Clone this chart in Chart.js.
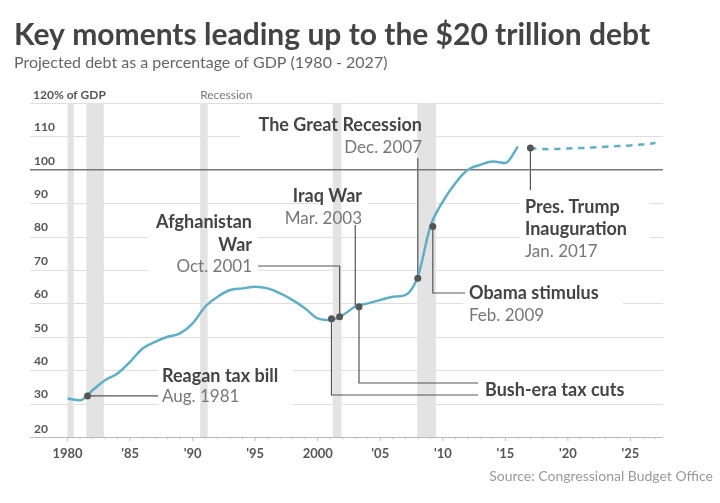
<!DOCTYPE html>
<html><head><meta charset="utf-8">
<script src="https://cdn.jsdelivr.net/npm/chart.js@4"></script>
<style>body{margin:0;background:#fff}#w{position:relative;width:720px;height:503px}</style>
</head><body><div id="w"><canvas id="c" width="720" height="503"></canvas></div>
<script>
const years = [1980,1981,1982,1983,1984,1985,1986,1987,1988,1989,1990,1991,1992,1993,1994,1995,1996,1997,1998,1999,2000,2001,2002,2003,2004,2005,2006,2007,2008,2009,2010,2011,2012,2013,2014,2015,2016];
const debt = [31.5,31,34,37,39,42.5,46.5,48.5,50,51,54,59,62,64,64.5,65,64.5,63,61,58.5,55.5,55,56.5,59,60,61,62,62.5,68,83,90.5,96,100,101.5,102.5,102,107];
const projYears = [2017,2018,2019,2020,2021,2022,2023,2024,2025,2026,2027];
const projDebt = [106.5,106.2,106.2,106.4,106.5,106.7,106.9,107.1,107.3,107.6,108];
const eventYears = [1981.6,2001.1,2001.75,2003.3,2008.0,2009.2,2017.0];
const eventDebt = [32.3,55.4,56,59,67.5,83,106.5];
const recessions = [[1980.0,1980.5],[1981.5,1982.9],[1990.6,1991.2],[2001.2,2001.9],[2007.95,2009.45]];
const yTicks = [20,30,40,50,60,70,80,90,100,110];
const xTicks = [1980,1985,1990,1995,2000,2005,2010,2015,2020,2025];
const xTickLabels = ['1980',"'85","'90","'95",'2000',"'05","'10","'15","'20","'25"];

const F='"Lato","Open Sans",sans-serif';
const bg={id:'bg',beforeDatasetsDraw(ch){
  const {ctx,chartArea:a,scales:{x,y}}=ch;ctx.save();
  ctx.strokeStyle='#dedede';ctx.lineWidth=1;
  [...yTicks,120].forEach(v=>{if(v===100)return;const p=Math.round(y.getPixelForValue(v))+.5;ctx.beginPath();ctx.moveTo(a.left,p);ctx.lineTo(a.right,p);ctx.stroke();});
  ctx.fillStyle='#fff';
  [[240,110,185,30],[318,182,50,45],[148,205,110,75],[158,363,135,42],[478,376,185,28],[463,280,160,45],[520,190,130,72]].forEach(b=>ctx.fillRect(b[0],b[1],b[2],b[3]));
  ctx.fillStyle='#e3e3e3';
  recessions.forEach(r=>{const x0=x.getPixelForValue(r[0]),x1=x.getPixelForValue(r[1]);ctx.fillRect(x0,a.top,x1-x0,a.bottom-a.top);});
  ctx.fillStyle='#555';ctx.font='bold 12px '+F;ctx.textBaseline='bottom';ctx.textAlign='left';
  yTicks.forEach(v=>{ctx.fillText(String(v),a.left+4,y.getPixelForValue(v)-(v===20?2:3));});
  ctx.fillText('120% of GDP',a.left+3,y.getPixelForValue(120)-2);
  ctx.fillStyle='#777';ctx.font='12px '+F;ctx.fillText('Recession',x.getPixelForValue(1990.6),y.getPixelForValue(120)-2);
  ctx.strokeStyle='#555';ctx.lineWidth=1.2;
  const P=(xx,yy)=>[x.getPixelForValue(xx),y.getPixelForValue(yy)];
  const line=pts=>{ctx.beginPath();pts.forEach((p,i)=>i?ctx.lineTo(p[0],p[1]):ctx.moveTo(p[0],p[1]));ctx.stroke();};
  let p=P(eventYears[0],eventDebt[0]);line([p,[158,p[1]]]);
  p=P(eventYears[1],eventDebt[1]);line([p,[p[0],395],[478,395]]);
  p=P(eventYears[3],eventDebt[3]);line([p,[p[0],383],[478,383]]);
  p=P(eventYears[2],eventDebt[2]);line([p,[p[0],266],[258,266]]);
  p=P(2003.0,eventDebt[3]);line([[p[0],p[1]],[p[0],225]]);
  p=P(eventYears[4],eventDebt[4]);line([p,[p[0],158]]);
  p=P(eventYears[5],eventDebt[5]);line([p,[p[0],293],[465,293]]);
  p=P(eventYears[6],eventDebt[6]);line([p,[p[0],190]]);
  ctx.strokeStyle='#777';ctx.lineWidth=1.5;const q=y.getPixelForValue(100);ctx.beginPath();ctx.moveTo(a.left,q);ctx.lineTo(a.right,q);ctx.stroke();
  ctx.strokeStyle='#bbb';ctx.lineWidth=1;ctx.beginPath();ctx.moveTo(a.left,a.bottom+.5);ctx.lineTo(a.right,a.bottom+.5);ctx.stroke();
  for(let yr=1980;yr<=2027;yr++){const xp=x.getPixelForValue(yr);ctx.beginPath();ctx.moveTo(xp,a.bottom);ctx.lineTo(xp,a.bottom+(yr%5?2:4));ctx.stroke();}
  ctx.fillStyle='#555';ctx.font='bold 13px '+F;ctx.textAlign='center';ctx.textBaseline='top';
  xTicks.forEach((v,i)=>ctx.fillText(xTickLabels[i],x.getPixelForValue(v),a.bottom+10));
  ctx.restore();
},afterDraw(ch){
  const ctx=ch.ctx;ctx.save();ctx.textBaseline='middle';
  const T=(s,xx,yy,al,b)=>{ctx.textAlign=al;ctx.font=(b?'bold 18px ':'17px ')+F;ctx.fillStyle=b?'#444':'#777';ctx.fillText(s,xx,yy);};
  T('The Great Recession',422,125,'right',1);T('Dec. 2007',422,148,'right',0);
  T('Iraq War',362,196,'right',1);T('Mar. 2003',362,219,'right',0);
  T('Afghanistan',252,222,'right',1);T('War',252,245,'right',1);T('Oct. 2001',252,267,'right',0);
  T('Reagan tax bill',162,376,'left',1);T('Aug. 1981',162,397,'left',0);
  T('Bush-era tax cuts',485,390,'left',1);
  T('Obama stimulus',469,293,'left',1);T('Feb. 2009',469,316,'left',0);
  T('Pres. Trump',525,207,'left',1);T('Inauguration',525,229,'left',1);T('Jan. 2017',525,252,'left',0);
  ctx.textBaseline='alphabetic';
  ctx.textAlign='left';ctx.fillStyle='#444';ctx.font='bold 30px '+F;ctx.fillText('Key moments leading up to the $20 trillion debt',14,45);
  ctx.fillStyle='#666';ctx.font='16px '+F;ctx.fillText('Projected debt as a percentage of GDP (1980 - 2027)',14,68);
  ctx.textAlign='right';ctx.fillStyle='#999';ctx.font='14px '+F;ctx.fillText('Source: Congressional Budget Office',713,481);
  ctx.restore();
}};
new Chart(document.getElementById('c'),{type:'line',
 data:{datasets:[
  {data:eventYears.map((v,i)=>({x:v,y:eventDebt[i]})),showLine:false,pointRadius:3.5,pointBackgroundColor:'#555',pointBorderWidth:0},
  {data:years.map((v,i)=>({x:v,y:debt[i]})),borderColor:'#5eafc6',borderWidth:2.5,pointRadius:0,tension:0.4,cubicInterpolationMode:'monotone'},
  {data:projYears.map((v,i)=>({x:v,y:projDebt[i]})),borderColor:'#5eafc6',borderWidth:2.5,borderDash:[6,6],pointRadius:0,tension:0.4}
 ]},
 options:{responsive:false,animation:false,events:[],
  layout:{padding:{left:30,right:57,top:103,bottom:66}},
  plugins:{legend:{display:false},tooltip:{enabled:false}},
  scales:{x:{type:'linear',min:1977,max:2027.6,display:false},y:{min:20,max:120,display:false}}},
 plugins:[bg]});
</script></body></html>
